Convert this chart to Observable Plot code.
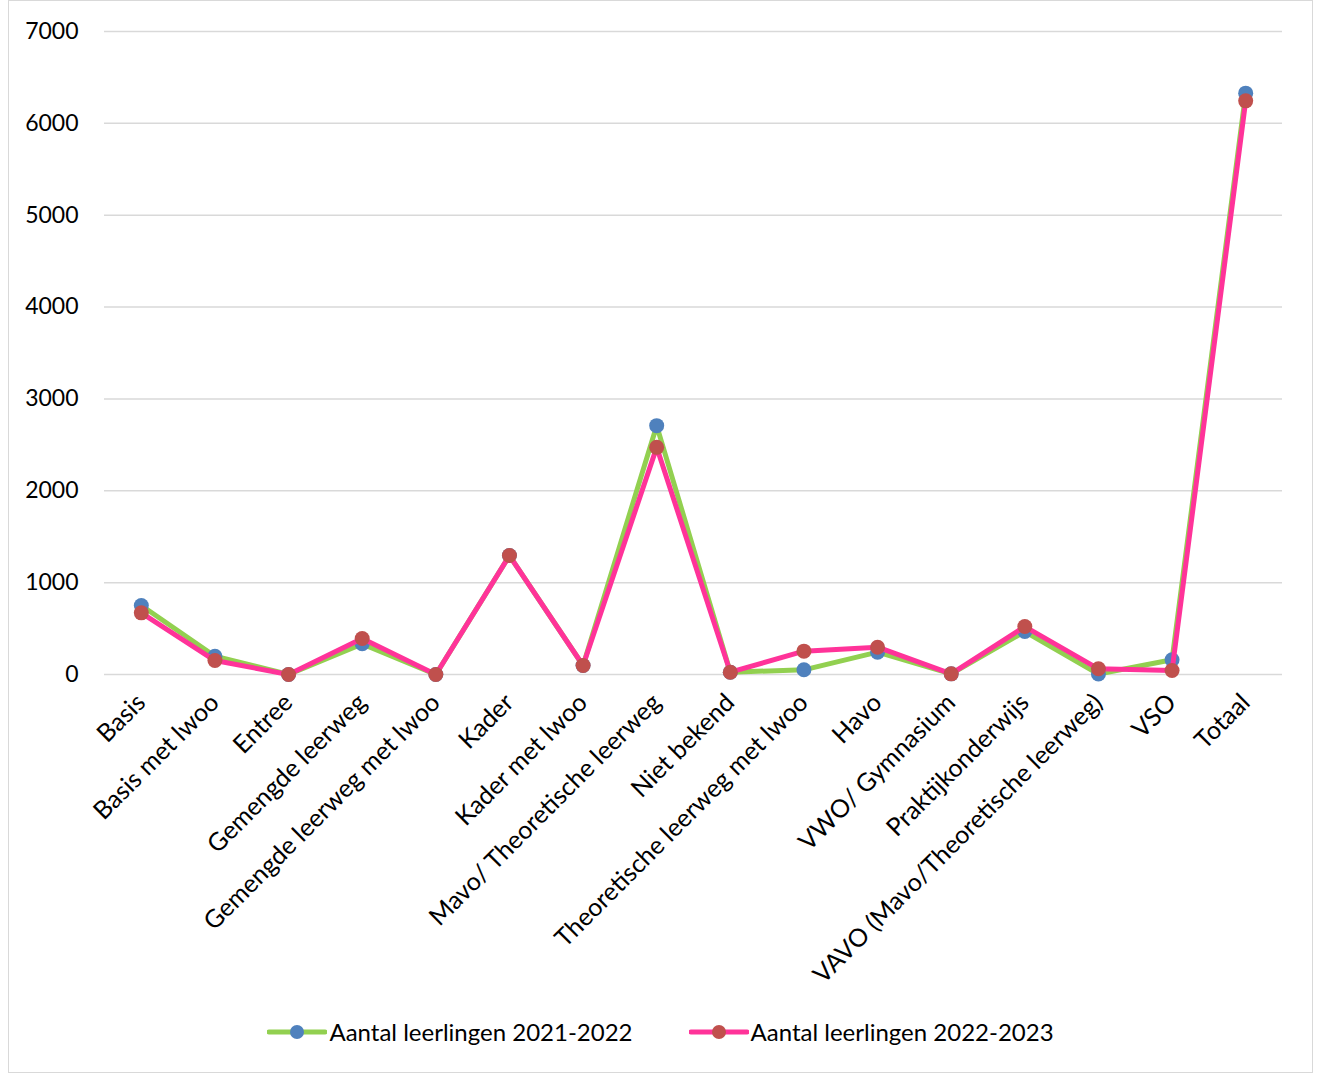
<!DOCTYPE html>
<html><head><meta charset="utf-8">
<script src="https://cdn.jsdelivr.net/npm/d3@7"></script>
<script src="https://cdn.jsdelivr.net/npm/@observablehq/plot@0.6"></script>
<style>
body{margin:0;background:#fff;font-family:Lato,"Open Sans",sans-serif;}
#frame{position:absolute;left:8px;top:0;width:1303px;height:1071px;border:1px solid #d9d9d9;}
#legend{position:absolute;left:0;top:1016px;width:1303px;display:flex;justify-content:center;gap:56px;font-size:24px;color:#000;}
.item{display:flex;align-items:center;gap:2px;}
</style></head><body>
<div id="frame"><div id="chart"></div><div id="legend"></div></div>
<script>
const categories = ["Basis","Basis met lwoo","Entree","Gemengde leerweg","Gemengde leerweg met lwoo","Kader","Kader met lwoo","Mavo/ Theoretische leerweg","Niet bekend","Theoretische leerweg met lwoo","Havo","VWO/ Gymnasium","Praktijkonderwijs","VAVO (Mavo/Theoretische leerweg)","VSO","Totaal"];
const values2122 = [751,199,0,334,0,1295,98,2709,25,51,243,7,468,5,160,6329];
const values2223 = [671,152,0,392,0,1295,98,2473,25,254,297,7,522,62,44,6245];
const seriesNames = ["Aantal leerlingen 2021-2022","Aantal leerlingen 2022-2023"];
const yTicks = [0,1000,2000,3000,4000,5000,6000,7000];
const lineColors = ["#92d050","#ff3399"];
const dotColors = ["#4f81bd","#c0504d"];

const d1 = categories.map((c,i)=>({cat:c, v:values2122[i]}));
const d2 = categories.map((c,i)=>({cat:c, v:values2223[i]}));

const chart = Plot.plot({
  width:1302, height:1000,
  marginLeft:95, marginRight:29, marginTop:30, marginBottom:327,
  style:{fontFamily:"Lato, 'Open Sans', sans-serif", fontSize:"22px", color:"#000", background:"#fff"},
  x:{type:"point", domain:categories, padding:0.5, round:false, label:null},
  y:{domain:[0,7000], label:null},
  marks:[
    Plot.gridY(yTicks,{stroke:"#d9d9d9", strokeOpacity:1, strokeWidth:1.5}),
    Plot.axisY(yTicks,{tickSize:0, tickPadding:26, fontSize:23, label:null, tickFormat:d=>String(d)}),
    Plot.axisX({tickSize:0, tickRotate:-45, tickPadding:8, fontSize:25, dy:16, label:null}),
    Plot.line(d1,{x:"cat", y:"v", stroke:lineColors[0], strokeWidth:5}),
    Plot.dot(d1,{x:"cat", y:"v", fill:dotColors[0], r:7.5}),
    Plot.line(d2,{x:"cat", y:"v", stroke:lineColors[1], strokeWidth:5}),
    Plot.dot(d2,{x:"cat", y:"v", fill:dotColors[1], r:7.5})
  ]
});
document.getElementById("chart").appendChild(chart);

const leg = document.getElementById("legend");
seriesNames.forEach((n,i)=>{
  const it = document.createElement("div"); it.className="item";
  it.innerHTML = `<svg width="60" height="20"><line x1="2" x2="58" y1="10" y2="10" stroke="${lineColors[i]}" stroke-width="5" stroke-linecap="round"/><circle cx="30" cy="10" r="7" fill="${dotColors[i]}"/></svg><span>${n}</span>`;
  leg.appendChild(it);
});
</script>
</body></html>
